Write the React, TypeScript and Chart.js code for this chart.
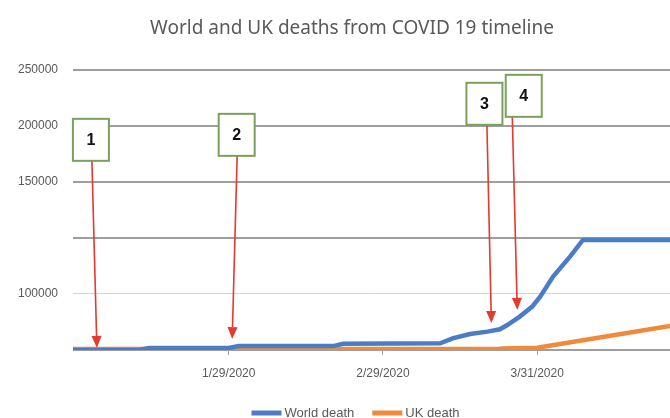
import React, { useEffect, useRef } from "react";
import { Chart, registerables } from "chart.js";

Chart.register(...registerables);

// Days relative to 1/29/2020 (day 0)
const xTickDays = [0, 31, 62];
const xTickLabels = ["1/29/2020", "2/29/2020", "3/31/2020"];

const yTickValues = [0, 50000, 100000, 150000, 200000, 250000];
const yTickLabels = ["", "100000", "", "150000", "200000", "250000"];

const worldDays = [-31.3, -18, -16, 0, 2, 21, 23, 42.5, 45, 48.5, 52, 54.5, 56, 58.5, 61, 62.6, 65.2, 68.6, 71.2, 88.7];
const worldDeaths = [0, 0, 1800, 1800, 3500, 3500, 5500, 6000, 10400, 14300, 16400, 18500, 22300, 29800, 38700, 47600, 65500, 83300, 98200, 98200];

const ukDays = [-31.3, 54, 55, 62, 88.7];
const ukDeaths = [800, 800, 1300, 2000, 21500];

const noteLabels = ["1", "2", "3", "4"];
const noteBoxDays = [-27.7, 1.6, 51.4, 59.3];
const noteBoxTopValues = [206250, 210700, 238400, 245500];
const noteArrowFromDays = [-27.5, 1.7, 51.9, 57];
const noteArrowToDays = [-26.5, 0.7, 52.8, 58];
const noteArrowToValues = [1800, 9800, 24100, 35700];

const annotationPlugin = {
  id: "notes",
  afterLayout(chart: any) {
    if (chart.titleBlock) {
      chart.titleBlock.left += 17;
      chart.titleBlock.right += 17;
    }
  },
  afterDatasetsDraw(chart: any) {
    const { ctx, scales } = chart;
    const xs = scales.x;
    const ys = scales.y;
    const boxW = 36;
    const boxH = 42;
    ctx.save();
    noteLabels.forEach((label, i) => {
      const cx = xs.getPixelForValue(noteBoxDays[i]);
      const top = ys.getPixelForValue(noteBoxTopValues[i]);
      const fx = xs.getPixelForValue(noteArrowFromDays[i]);
      const tx = xs.getPixelForValue(noteArrowToDays[i]);
      const ty = ys.getPixelForValue(noteArrowToValues[i]);
      const fy = top + boxH;
      const ang = Math.atan2(ty - fy, tx - fx);
      const headLen = 12;
      const headW = 5;
      const bx = tx - headLen * Math.cos(ang);
      const by = ty - headLen * Math.sin(ang);
      ctx.strokeStyle = "#E53A2E";
      ctx.lineWidth = 1.6;
      ctx.beginPath();
      ctx.moveTo(fx, fy);
      ctx.lineTo(bx, by);
      ctx.stroke();
      ctx.fillStyle = "#E53A2E";
      ctx.beginPath();
      ctx.moveTo(tx, ty);
      ctx.lineTo(bx + headW * Math.sin(ang), by - headW * Math.cos(ang));
      ctx.lineTo(bx - headW * Math.sin(ang), by + headW * Math.cos(ang));
      ctx.closePath();
      ctx.fill();
      ctx.fillStyle = "#ffffff";
      ctx.fillRect(cx - boxW / 2, top, boxW, boxH);
      ctx.strokeStyle = "#7AA05E";
      ctx.lineWidth = 2;
      ctx.strokeRect(cx - boxW / 2, top, boxW, boxH);
      ctx.fillStyle = "#111111";
      ctx.font = "bold 16px 'Liberation Sans'";
      ctx.textAlign = "center";
      ctx.textBaseline = "middle";
      ctx.fillText(label, cx, top + boxH / 2 + 1);
    });

    // custom legend below the x axis
    const font = "13px 'Liberation Sans'";
    ctx.font = font;
    const sw = 30;
    const gap = 3;
    const itemGap = 18;
    const items = chart.data.datasets.map((d: any) => ({
      label: d.label,
      color: d.borderColor,
      w: ctx.measureText(d.label).width,
    }));
    const total = items.reduce((a: number, it: any) => a + sw + gap + it.w, 0) + itemGap * (items.length - 1);
    const center = (chart.chartArea.left + chart.chartArea.right) / 2 - 16;
    let x = center - total / 2;
    const y = chart.chartArea.bottom + 63;
    ctx.textAlign = "left";
    ctx.textBaseline = "middle";
    items.forEach((it: any) => {
      ctx.fillStyle = it.color;
      ctx.fillRect(x, y - 2.5, sw, 5);
      x += sw + gap;
      ctx.fillStyle = "#595959";
      ctx.fillText(it.label, x, y);
      x += it.w + itemGap;
    });
    ctx.restore();
  },
};

export default function App() {
  const ref = useRef<HTMLCanvasElement | null>(null);
  useEffect(() => {
    if (!ref.current) return;
    const chart = new Chart(ref.current, {
      type: "line",
      data: {
        datasets: [
          {
            label: "World death",
            data: worldDays.map((d, i) => ({ x: d, y: worldDeaths[i] })),
            borderColor: "#4A7CC7",
            backgroundColor: "#4A7CC7",
            borderWidth: 4.5,
            pointRadius: 0,
            tension: 0,
          },
          {
            label: "UK death",
            data: ukDays.map((d, i) => ({ x: d, y: ukDeaths[i] })),
            borderColor: "#F08A3A",
            backgroundColor: "#F08A3A",
            borderWidth: 4.5,
            pointRadius: 0,
            tension: 0,
          },
        ],
      },
      options: {
        responsive: false,
        animation: false,
        layout: { padding: { left: 0, right: 0, top: 0, bottom: 26 } },
        plugins: {
          title: {
            display: true,
            text: "World and UK deaths from COVID 19 timeline",
            color: "#595959",
            font: { family: "'Noto Sans'", size: 19, weight: "normal" },
            padding: { top: 17, bottom: 30 },
          },
          legend: { display: false },
          tooltip: { enabled: false },
        },
        scales: {
          x: {
            type: "linear",
            min: -31.3,
            max: 88.7,
            afterBuildTicks: (s: any) => {
              s.ticks = xTickDays.map((v) => ({ value: v }));
            },
            afterFit: (s: any) => {
              s.height = 42;
            },
            ticks: {
              color: "#595959",
              font: { family: "'Liberation Sans'", size: 12 },
              padding: 11,
              autoSkip: false,
              maxRotation: 0,
              callback: (v: any) => {
                const i = xTickDays.indexOf(Number(v));
                return i >= 0 ? xTickLabels[i] : "";
              },
            },
            grid: {
              drawOnChartArea: false,
              drawTicks: true,
              tickLength: 5,
              color: "#a0a0a0",
            },
            border: { display: false },
          },
          y: {
            min: 0,
            max: 250000,
            afterBuildTicks: (s: any) => {
              s.ticks = yTickValues.map((v) => ({ value: v }));
            },
            afterFit: (s: any) => {
              s.width = 73;
            },
            ticks: {
              color: "#595959",
              font: { family: "'Liberation Sans'", size: 12 },
              padding: 15,
              callback: (_v: any, i: number) => yTickLabels[i],
            },
            grid: {
              drawTicks: false,
              color: (c: any) => (c.index === 1 ? "#d4d4d4" : "#9e9e9e"),
              lineWidth: (c: any) => (c.index === 1 ? 1 : 2),
            },
            border: { display: false },
          },
        },
      },
      plugins: [annotationPlugin],
    } as any);
    return () => chart.destroy();
  }, []);
  return (
    <div style={{ position: "fixed", left: 0, top: 0, width: 670, height: 418, background: "#fff" }}>
      <canvas ref={ref} width={670} height={418} style={{ display: "block" }} />
    </div>
  );
}
